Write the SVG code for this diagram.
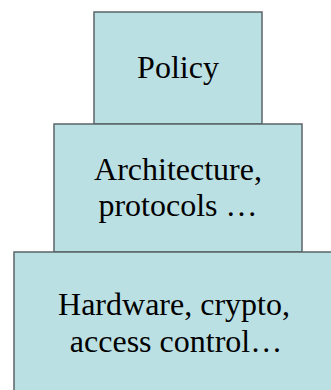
<svg xmlns="http://www.w3.org/2000/svg" width="331" height="390" viewBox="0 0 331 390">
<style>
.box{fill:#bbe0e3;stroke:#5b6468;stroke-width:1.5}
.lbl{font-family:"Liberation Serif","Times New Roman",serif;font-size:32px;fill:#000;text-anchor:middle}
</style>
<rect width="331" height="390" fill="#fff"/>
<g id="policy">
<rect class="box" x="94" y="12" width="168" height="112"/>
<text class="lbl" x="178" y="78">Policy</text>
</g>
<g id="architecture">
<rect class="box" x="54" y="124" width="248" height="128"/>
<text class="lbl" x="178" y="180">Architecture,</text>
<text class="lbl" x="178" y="216">protocols …</text>
</g>
<g id="hardware">
<rect class="box" x="14" y="252" width="330" height="150"/>
<text class="lbl" x="174" y="315">Hardware, crypto,</text>
<text class="lbl" x="176" y="352">access control…</text>
</g>
</svg>
